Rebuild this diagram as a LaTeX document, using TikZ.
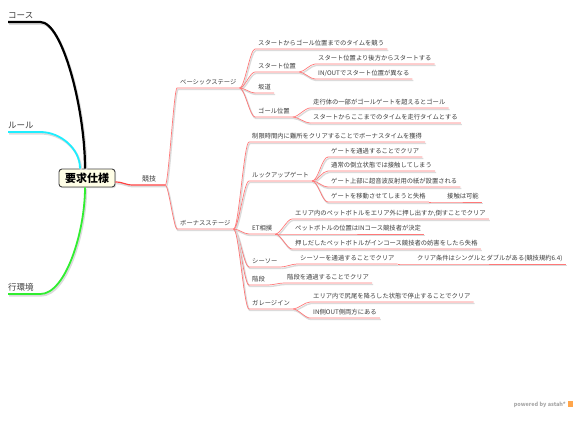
\documentclass[tikz,border=0pt]{standalone}
\usepackage{fontspec}
\setmainfont{Noto Sans CJK JP}
\usetikzlibrary{shadows}
\definecolor{txt}{HTML}{3C3C3C}
\definecolor{redmain}{HTML}{FF4040}
\definecolor{redsub}{HTML}{FF7878}
\definecolor{rulecol}{HTML}{1EEEFF}
\definecolor{envcol}{HTML}{30EE30}
\tikzset{leaf/.style = {anchor=south west,inner xsep=3pt,inner ysep=2pt,text height=5pt,text depth=1pt,text=txt,font=\fontsize{6.3pt}{7pt}\selectfont}}
\tikzset{mid/.style = {leaf,font=\fontsize{7pt}{8pt}\selectfont}}
\tikzset{toplabel/.style = {leaf,inner xsep=0pt,text width=32pt,text height=6.5pt,font=\fontsize{8.5pt}{9pt}\selectfont}}
\tikzset{rootbox/.style = {draw=black!75,line width=0.9pt,rounded corners=3pt,fill=yellow!10,minimum width=56pt,minimum height=18pt,inner sep=0pt,drop shadow={opacity=0.25,shadow xshift=1.2pt,shadow yshift=-1.2pt},font=\bfseries\fontsize{11pt}{12pt}\selectfont}}
\tikzset{lineshadow/.style = {preaction={draw=black!14,line width=#1,transform canvas={xshift=1pt,yshift=-1.5pt}}}}
\tikzset{twig/.style = {draw=redsub,line width=0.7pt,lineshadow=1.4pt}}
\tikzset{sway/.style = {to path={.. controls +(#1,0) and +(-#1,0) .. (\tikztotarget)}},sway/.default=5}

\begin{document}
\begin{tikzpicture}[x=1pt,y=-1pt]
                \useasboundingbox (0,0) rectangle (581,421);
                \node[rootbox] (root) at (87,178) {要求仕様};
                \node[toplabel] (course) at (8,22) {コース};
                \draw[line width=2.2pt,black,lineshadow=2.6pt] ([xshift=-2pt]root.north) .. controls +(0,-60) and +(22,0) .. (course.south east) -- (course.south west);
                \node[toplabel] (rule) at (8,132) {ルール};
                \draw[line width=1.8pt,rulecol,lineshadow=2.2pt] ([xshift=-7pt]root.north) .. controls +(0,-20) and +(20,0) .. (rule.south east) -- (rule.south west);
                \node[toplabel] (env) at (8,294) {行環境};
                \draw[line width=1.8pt,envcol,lineshadow=2.2pt] ([xshift=-2pt]root.south) .. controls +(0,45) and +(25,0) .. (env.south east) -- (env.south west);
                \node[mid,minimum width=32pt] (game) at (133,185) {競技};
                \draw[draw=redmain,line width=1.2pt,lineshadow=1.8pt] ([yshift=-4pt]root.east) to[sway=8] (game.south west) -- (game.south east);
                \node[leaf] (basic) at (177,88) {ベーシックステージ};
                \draw[twig] (game.south east) to[sway=3] (basic.south west) -- (basic.south east);
                \node[leaf] (b1) at (255,49) {スタートからゴール位置までのタイムを競う};
                \draw[twig] (basic.south east) to[sway] (b1.south west) -- (b1.south east);
                \node[leaf] (b2) at (255,72) {スタート位置};
                \draw[twig] (basic.south east) to[sway] (b2.south west) -- (b2.south east);
                \node[leaf] (b21) at (315,64) {スタート位置より後方からスタートする};
                \draw[twig] (b2.south east) to[sway] (b21.south west) -- (b21.south east);
                \node[leaf] (b22) at (315,79) {IN/OUTでスタート位置が異なる};
                \draw[twig] (b2.south east) to[sway] (b22.south west) -- (b22.south east);
                \node[leaf] (b3) at (255,93) {坂道};
                \draw[twig] (basic.south east) to[sway] (b3.south west) -- (b3.south east);
                \node[leaf] (b4) at (255,117) {ゴール位置};
                \draw[twig] (basic.south east) to[sway] (b4.south west) -- (b4.south east);
                \node[leaf] (b41) at (310,108) {走行体の一部がゴールゲートを超えるとゴール};
                \draw[twig] (b4.south east) to[sway] (b41.south west) -- (b41.south east);
                \node[leaf] (b42) at (310,123) {スタートからここまでのタイムを走行タイムとする};
                \draw[twig] (b4.south east) to[sway] (b42.south west) -- (b42.south east);
                \node[leaf] (bonus) at (177,229) {ボーナスステージ};
                \draw[twig] (game.south east) to[sway=3] (bonus.south west) -- (bonus.south east);
                \node[leaf] (p1) at (249,142) {制限時間内に難所をクリアすることでボーナスタイムを獲得};
                \draw[twig] (bonus.south east) to[sway] (p1.south west) -- (p1.south east);
                \node[leaf] (p2) at (249,181) {ルックアップゲート};
                \draw[twig] (bonus.south east) to[sway] (p2.south west) -- (p2.south east);
                \node[leaf] (p21) at (328,157) {ゲートを通過することでクリア};
                \draw[twig] (p2.south east) to[sway=6] (p21.south west) -- (p21.south east);
                \node[leaf] (p22) at (328,171) {通常の倒立状態では接触してしまう};
                \draw[twig] (p2.south east) to[sway=6] (p22.south west) -- (p22.south east);
                \node[leaf] (p23) at (328,187) {ゲート上部に超音波反射用の紙が設置される};
                \draw[twig] (p2.south east) to[sway=6] (p23.south west) -- (p23.south east);
                \node[leaf] (p24) at (328,202) {ゲートを移動させてしまうと失格};
                \draw[twig] (p2.south east) to[sway=6] (p24.south west) -- (p24.south east);
                \node[leaf] (p241) at (444,202) {接触は可能};
                \draw[twig] (p24.south east) to[sway] (p241.south west) -- (p241.south east);
                \node[leaf] (p3) at (249,234) {ET相撲};
                \draw[twig] (bonus.south east) to[sway] (p3.south west) -- (p3.south east);
                \node[leaf] (p31) at (292,219) {エリア内のペットボトルをエリア外に押し出すか,倒すことでクリア};
                \draw[twig] (p3.south east) to[sway] (p31.south west) -- (p31.south east);
                \node[leaf] (p32) at (292,234) {ペットボトルの位置はINコース競技者が決定};
                \draw[twig] (p3.south east) to[sway] (p32.south west) -- (p32.south east);
                \node[leaf] (p33) at (292,249) {押しだしたペットボトルがインコース競技者の妨害をしたら失格};
                \draw[twig] (p3.south east) to[sway] (p33.south west) -- (p33.south east);
                \node[leaf] (p4) at (249,267) {シーソー};
                \draw[twig] (bonus.south east) to[sway] (p4.south west) -- (p4.south east);
                \node[leaf] (p41) at (297,264) {シーソーを通過することでクリア};
                \draw[twig] (p4.south east) to[sway] (p41.south west) -- (p41.south east);
                \node[leaf] (p411) at (414,264) {クリア条件はシングルとダブルがある(競技規約6.4)};
                \draw[twig] (p41.south east) to[sway] (p411.south west) -- (p411.south east);
                \node[leaf] (p5) at (249,285) {階段};
                \draw[twig] (bonus.south east) to[sway] (p5.south west) -- (p5.south east);
                \node[leaf] (p51) at (284,283) {階段を通過することでクリア};
                \draw[twig] (p5.south east) to[sway] (p51.south west) -- (p51.south east);
                \node[leaf] (p6) at (249,309) {ガレージイン};
                \draw[twig] (bonus.south east) to[sway] (p6.south west) -- (p6.south east);
                \node[leaf] (p61) at (310,302) {エリア内で尻尾を降ろした状態で停止することでクリア};
                \draw[twig] (p6.south east) to[sway] (p61.south west) -- (p61.south east);
                \node[leaf] (p62) at (310,318) {IN側OUT側両方にある};
                \draw[twig] (p6.south east) to[sway] (p62.south west) -- (p62.south east);
                \node[anchor=east,inner sep=0pt,text=black!35,font=\bfseries\fontsize{5.5pt}{6pt}\selectfont] (powered) at (566,405) {powered by astah*};
                \node[fill=orange!70,minimum size=5.5pt,inner sep=0pt] (logo) at (570.5,404) {};
\end{tikzpicture}
\end{document}
